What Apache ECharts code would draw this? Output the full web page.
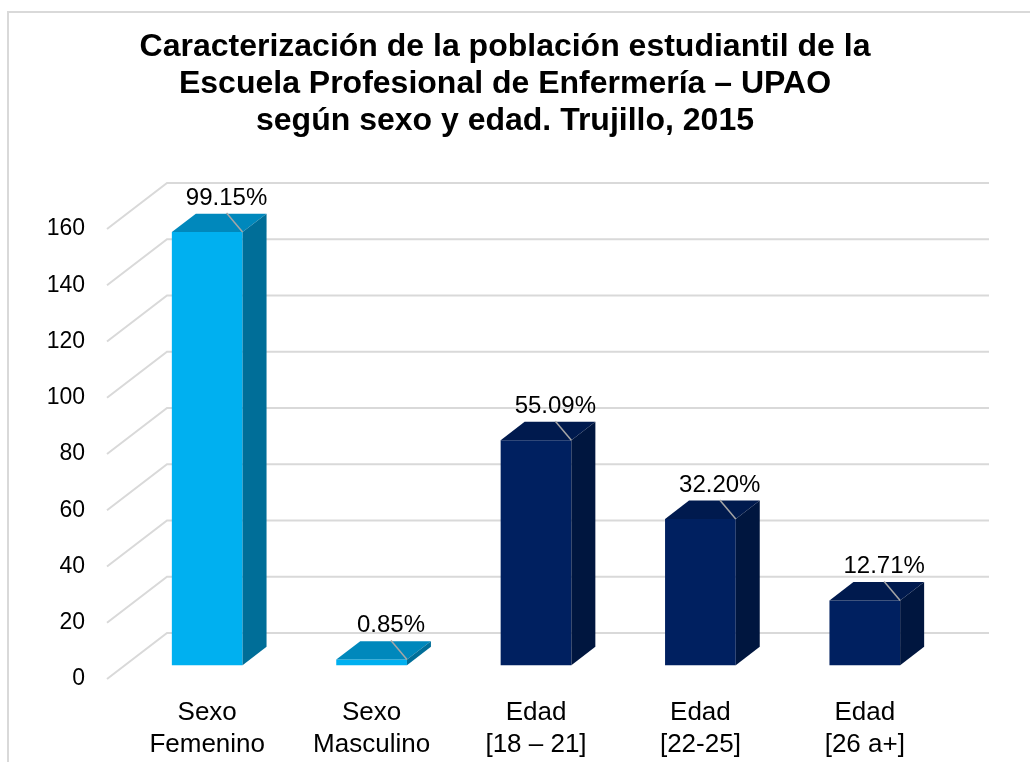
<!DOCTYPE html>
<html>
<head>
<meta charset="utf-8">
<script src="https://cdn.jsdelivr.net/npm/echarts@6/dist/echarts.min.js"></script>
<style>
  html, body { margin: 0; padding: 0; background: #fff; }
  #chart { width: 1030px; height: 762px; }
</style>
</head>
<body>
<div id="chart"></div>
<script>
// data
const categories = ["Sexo\nFemenino", "Sexo\nMasculino", "Edad\n[18 – 21]", "Edad\n[22-25]", "Edad\n[26 a+]"];
const values = [154, 2, 80, 52, 23];
const percentLabels = ["99.15%", "0.85%", "55.09%", "32.20%", "12.71%"];
const yTicks = [0, 20, 40, 60, 80, 100, 120, 140, 160];

// bar colours: front, top, side
const lightBlue = ["#00B0F0", "#0088BC", "#006E98"];
const navy = ["#002060", "#001A4E", "#00163F"];
const barColors = [lightBlue, lightBlue, navy, navy, navy];

// fake 3d depth of the floor (front edge -> back wall)
const DX = 60;
const DY = -46;
const FONT = "'Liberation Sans', Arial, sans-serif";

const myChart = echarts.init(document.getElementById("chart"));

const option = {
  animation: false,
  title: {
    text: "Caracterización de la población estudiantil de la\nEscuela Profesional de Enfermería – UPAO\nsegún sexo y edad. Trujillo, 2015",
    left: 500,
    textAlign: "center",
    top: 24,
    textStyle: {
      fontFamily: FONT,
      fontSize: 32,
      fontWeight: "bold",
      color: "#000",
      lineHeight: 37,
    },
  },
  graphic: [
    {
      type: "polyline",
      shape: { points: [[8, 762], [8, 12], [1030, 12]] },
      style: { stroke: "#d9d9d9", lineWidth: 2, fill: null },
      silent: true,
    },
  ],
  grid: {
    left: 107,
    right: 101,
    top: 229,
    bottom: 83,
  },
  xAxis: {
    type: "category",
    data: categories,
    axisLine: { show: false },
    axisTick: { show: false },
    splitLine: { show: false },
    axisLabel: {
      interval: 0,
      margin: 18,
      fontFamily: FONT,
      fontSize: 26,
      lineHeight: 32,
      color: "#000",
      padding: [0, 0, 0, 36],
    },
  },
  yAxis: {
    type: "value",
    min: 0,
    max: 160,
    interval: 20,
    axisLine: { show: false },
    axisTick: { show: false },
    splitLine: { show: false },
    axisLabel: {
      margin: 22,
      fontFamily: FONT,
      fontSize: 23,
      color: "#000",
      padding: [3, 0, 0, 0],
    },
  },
  series: [
    {
      // gridlines: slanted on the floor side, flat on the back wall
      type: "custom",
      silent: true,
      z: 1,
      data: yTicks.map((t) => [0, t]),
      renderItem: function (params, api) {
        const cs = params.coordSys;
        const y = api.coord([0, api.value(1)])[1];
        const x0 = cs.x;
        const x1 = cs.x + cs.width;
        return {
          type: "polyline",
          shape: { points: [[x0, y], [x0 + DX, y + DY], [x1 + DX, y + DY]] },
          style: { stroke: "#d9d9d9", lineWidth: 2, fill: null },
        };
      },
    },
    {
      type: "custom",
      silent: true,
      z: 2,
      data: values.map((v, i) => [i, v]),
      renderItem: function (params, api) {
        const i = api.value(0);
        const top = api.coord([i, api.value(1)]);
        const base = api.coord([i, 0]);
        const w = api.size([1, 0])[0] * 0.43;
        // bar front sits 30% into the floor, 40% deep
        const fx = DX * 0.3, fy = DY * 0.3;
        const ddx = DX * 0.4, ddy = DY * 0.4;
        const xl = top[0] - w / 2 + fx;
        const xr = top[0] + w / 2 + fx;
        const yt = top[1] + fy;
        const yb = base[1] + fy;
        const c = barColors[i];
        return {
          type: "group",
          children: [
            {
              type: "rect",
              shape: { x: xl, y: yt, width: xr - xl, height: yb - yt },
              style: { fill: c[0] },
            },
            {
              type: "polygon",
              shape: { points: [[xl, yt], [xr, yt], [xr + ddx, yt + ddy], [xl + ddx, yt + ddy]] },
              style: { fill: c[1] },
            },
            {
              type: "polygon",
              shape: { points: [[xr, yt], [xr + ddx, yt + ddy], [xr + ddx, yb + ddy], [xr, yb]] },
              style: { fill: c[2] },
            },
            {
              type: "line",
              shape: { x1: xr - 16, y1: yt - 19, x2: xr, y2: yt },
              style: { stroke: "#a6a6a6", lineWidth: 1.5 },
            },
            {
              type: "text",
              x: xr - 16,
              y: yt - 34,
              style: {
                text: percentLabels[i],
                fontFamily: FONT,
                fontSize: 24,
                fill: "#000",
                align: "center",
                verticalAlign: "middle",
              },
            },
          ],
        };
      },
    },
  ],
};

myChart.setOption(option);
window.addEventListener("resize", () => {
  myChart.resize();
});
</script>
</body>
</html>
